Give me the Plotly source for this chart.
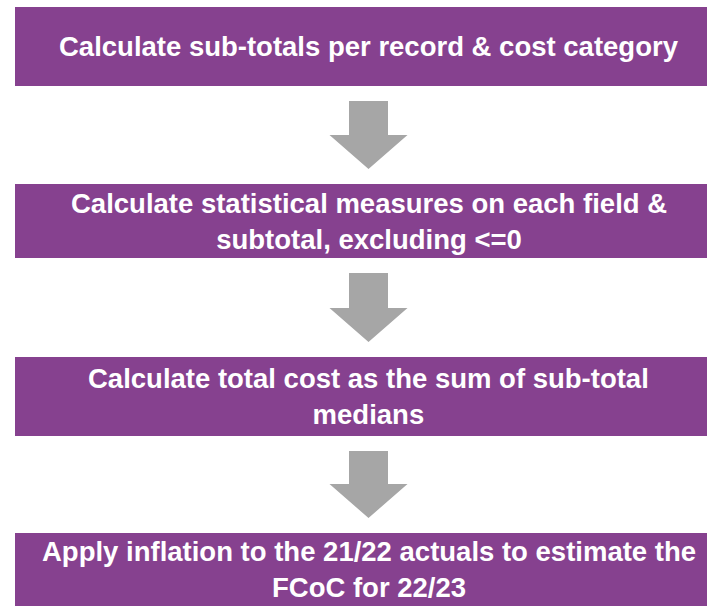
import plotly.graph_objects as go

# Flowchart content
steps = [
    "Calculate sub-totals per record & cost category",
    "Calculate statistical measures on each field &<br>subtotal, excluding <=0",
    "Calculate total cost as the sum of sub-total<br>medians",
    "Apply inflation to the 21/22 actuals to estimate the<br>FCoC for 22/23",
]

# Layout (pixel coordinates of the boxes)
box_top = [7, 184, 357, 533]
box_bottom = [86, 258, 436, 606]
box_left, box_right = 15, 707
text_x = 368.5

W, H = 707, 606
PURPLE = "#86418F"
GRAY = "#A6A6A6"

fig = go.Figure()

shapes = []
annotations = []
for i, txt in enumerate(steps):
    t, b = box_top[i], box_bottom[i]
    shapes.append(dict(type="rect", xref="x", yref="y", x0=box_left, x1=box_right,
                       y0=t, y1=b, fillcolor=PURPLE, line=dict(width=0), layer="below"))
    annotations.append(dict(x=text_x, y=(t + b) / 2, xref="x", yref="y", text="<b>" + txt + "</b>",
                            showarrow=False, xanchor="center", yanchor="middle", align="center",
                            font=dict(family="Liberation Sans, Arial, sans-serif", size=27.5, color="white")))
    if i < len(steps) - 1:
        # down arrow between this box and the next
        y0 = b + 15
        y2 = box_top[i + 1] - 15
        y1 = y2 - 34
        cx = 368.5
        sw, hw = 19.5, 39
        path = (f"M{cx-sw},{y0} L{cx+sw},{y0} L{cx+sw},{y1} L{cx+hw},{y1} "
                f"L{cx},{y2} L{cx-hw},{y1} L{cx-sw},{y1} Z")
        shapes.append(dict(type="path", xref="x", yref="y", path=path,
                           fillcolor=GRAY, line=dict(width=0)))

fig.update_layout(
    width=W, height=H,
    margin=dict(l=0, r=0, t=0, b=0),
    paper_bgcolor="white", plot_bgcolor="white",
    shapes=shapes, annotations=annotations,
    showlegend=False,
    xaxis=dict(range=[0, W], visible=False, fixedrange=True),
    yaxis=dict(range=[H, 0], visible=False, fixedrange=True),
)

fig.write_html(
    "out.html",
    config={"displayModeBar": False},
    post_script="document.body.style.margin='0';document.body.style.overflow='hidden';"
                "document.documentElement.style.overflow='hidden';",
)
